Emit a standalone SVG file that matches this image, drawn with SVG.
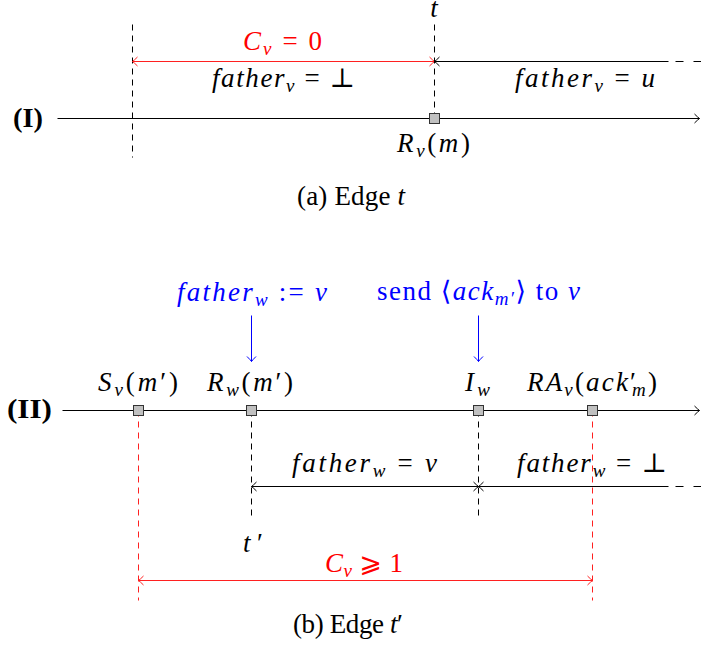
<svg xmlns="http://www.w3.org/2000/svg" width="701" height="650" viewBox="0 0 701 650">
<style>
text{font-family:"Liberation Serif","DejaVu Serif","DejaVu Sans",serif;font-size:27px;fill:#000}
.i{font-style:italic}
.s{font-size:19px}
.b{font-weight:bold}
.red{fill:#ff0000}
.blue{fill:#0000ff}
.ln{stroke:#000;stroke-width:1;fill:none}
.dash{stroke:#000;stroke-width:1;stroke-dasharray:6 5;fill:none}
.rdash{stroke:#ff2020;stroke-width:1;stroke-dasharray:6 5;fill:none}
.rl{stroke:#ff2020;stroke-width:1;fill:none}
.bl{stroke:#0000ff;stroke-width:1;fill:none}
.sq{fill:#c0c0c0;stroke:#333;stroke-width:1}
</style>
<defs>
<marker id="ak" viewBox="-7 -6 8 12" markerWidth="8" markerHeight="12" refX="0" refY="0" markerUnits="userSpaceOnUse" orient="auto-start-reverse" overflow="visible"><path d="M-5,-4.5 Q-1.5,-1 0,0 Q-1.5,1 -5,4.5" fill="none" stroke="#000" stroke-width="1"/></marker>
<marker id="ar" viewBox="-7 -6 8 12" markerWidth="8" markerHeight="12" refX="0" refY="0" markerUnits="userSpaceOnUse" orient="auto-start-reverse" overflow="visible"><path d="M-5,-4.5 Q-1.5,-1 0,0 Q-1.5,1 -5,4.5" fill="none" stroke="#ff2020" stroke-width="1"/></marker>
<marker id="ab" viewBox="-7 -6 8 12" markerWidth="8" markerHeight="12" refX="0" refY="0" markerUnits="userSpaceOnUse" orient="auto-start-reverse" overflow="visible"><path d="M-5,-4.5 Q-1.5,-1 0,0 Q-1.5,1 -5,4.5" fill="none" stroke="#0000ff" stroke-width="1"/></marker>
</defs>

<g id="connectors" transform="translate(0.5 0.5)">
<line class="ln" x1="57" y1="118" x2="699" y2="118" marker-end="url(#ak)"/>
<line class="dash" x1="132" y1="24" x2="132" y2="157"/>
<line class="dash" x1="434" y1="24" x2="434" y2="118"/>
<line class="rl" x1="132" y1="61" x2="434" y2="61" marker-start="url(#ar)" marker-end="url(#ar)"/>
<line class="ln" x1="434" y1="61" x2="668" y2="61" marker-start="url(#ak)"/>
<line class="dash" x1="675" y1="61" x2="701" y2="61" style="stroke-dasharray:8 10"/>
<line class="ln" x1="62" y1="410" x2="699" y2="410" marker-end="url(#ak)"/>
<line class="dash" x1="251" y1="410" x2="251" y2="520"/>
<line class="dash" x1="478" y1="410" x2="478" y2="520"/>
<line class="rdash" x1="138" y1="410" x2="138" y2="600"/>
<line class="rdash" x1="592" y1="410" x2="592" y2="600"/>
<line class="ln" x1="251" y1="486" x2="478" y2="486" marker-start="url(#ak)" marker-end="url(#ak)"/>
<line class="ln" x1="478" y1="486" x2="668" y2="486" marker-start="url(#ak)"/>
<line class="dash" x1="675" y1="486" x2="701" y2="486" style="stroke-dasharray:8 10"/>
<line class="rl" x1="138" y1="580" x2="592" y2="580" marker-start="url(#ar)" marker-end="url(#ar)"/>
<line class="bl" x1="251" y1="315" x2="251" y2="361" marker-end="url(#ab)"/>
<line class="bl" x1="478" y1="315" x2="478" y2="361" marker-end="url(#ab)"/>
</g>

<g transform="translate(0.5 0.5)">
<g id="node-Rv-m"><rect class="sq" x="429" y="113" width="10" height="10"/></g>
<g id="node-Sv"><rect class="sq" x="133" y="405" width="10" height="10"/></g>
<g id="node-Rw"><rect class="sq" x="246" y="405" width="10" height="10"/></g>
<g id="node-Iw"><rect class="sq" x="473" y="405" width="10" height="10"/></g>
<g id="node-RAv"><rect class="sq" x="587" y="405" width="10" height="10"/></g>
</g>

<g id="labels">
<text class="b" x="13" y="127" textLength="30" lengthAdjust="spacingAndGlyphs">(I)</text>
<text class="i" x="434" y="17" text-anchor="middle">t</text>
<text class="red" x="243" y="50" textLength="79" lengthAdjust="spacing"><tspan class="i">C</tspan><tspan class="i s" dy="5">v</tspan><tspan dy="-5"> = 0</tspan></text>
<text x="212" y="87" textLength="143" lengthAdjust="spacing"><tspan class="i">father</tspan><tspan class="i s" dy="5">v</tspan><tspan dy="-5"> = ⊥</tspan></text>
<text x="515" y="87" textLength="140" lengthAdjust="spacing"><tspan class="i">father</tspan><tspan class="i s" dy="5">v</tspan><tspan dy="-5"> = </tspan><tspan class="i">u</tspan></text>
<text x="397" y="152" textLength="73" lengthAdjust="spacing"><tspan class="i">R</tspan><tspan class="i s" dy="5">v</tspan><tspan dy="-5">(</tspan><tspan class="i">m</tspan><tspan>)</tspan></text>
<text x="297" y="205" textLength="108" lengthAdjust="spacing">(a) Edge <tspan class="i">t</tspan></text>

<text class="b" x="7" y="418" textLength="45" lengthAdjust="spacingAndGlyphs">(II)</text>
<text class="blue" x="177" y="301" textLength="150" lengthAdjust="spacing"><tspan class="i">father</tspan><tspan class="i s" dy="5">w</tspan><tspan dy="-5"> := </tspan><tspan class="i">v</tspan></text>
<text class="blue" x="377" y="300" textLength="203" lengthAdjust="spacing">send ⟨<tspan class="i">ack</tspan><tspan class="i s" dy="5">m′</tspan><tspan dy="-5">⟩ to </tspan><tspan class="i">v</tspan></text>
<text x="98" y="391" textLength="80" lengthAdjust="spacing"><tspan class="i">S</tspan><tspan class="i s" dy="5">v</tspan><tspan dy="-5">(</tspan><tspan class="i">m</tspan><tspan>′)</tspan></text>
<text x="207" y="391" textLength="86" lengthAdjust="spacing"><tspan class="i">R</tspan><tspan class="i s" dy="5">w</tspan><tspan dy="-5">(</tspan><tspan class="i">m</tspan><tspan>′)</tspan></text>
<text x="465" y="391" textLength="25" lengthAdjust="spacing"><tspan class="i">I</tspan><tspan class="i s" dy="5">w</tspan></text>
<text x="527" y="391" textLength="130" lengthAdjust="spacing"><tspan class="i">RA</tspan><tspan class="i s" dy="5">v</tspan><tspan dy="-5">(</tspan><tspan class="i">ack</tspan><tspan>′</tspan><tspan class="i s" dx="-6" dy="5">m</tspan><tspan dy="-5">)</tspan></text>
<text x="292" y="472" textLength="145" lengthAdjust="spacing"><tspan class="i">father</tspan><tspan class="i s" dy="5">w</tspan><tspan dy="-5"> = </tspan><tspan class="i">v</tspan></text>
<text x="517" y="472" textLength="150" lengthAdjust="spacing"><tspan class="i">father</tspan><tspan class="i s" dy="5">w</tspan><tspan dy="-5"> = ⊥</tspan></text>
<text x="243" y="552" textLength="20" lengthAdjust="spacing"><tspan class="i">t</tspan>′</text>
<text class="red" x="325" y="572" textLength="78" lengthAdjust="spacing"><tspan class="i">C</tspan><tspan class="i s" dy="5">v</tspan><tspan dy="-5"> ⩾ 1</tspan></text>
<text x="293" y="633" textLength="110" lengthAdjust="spacing">(b) Edge <tspan class="i">t</tspan>′</text>
</g>
</svg>
